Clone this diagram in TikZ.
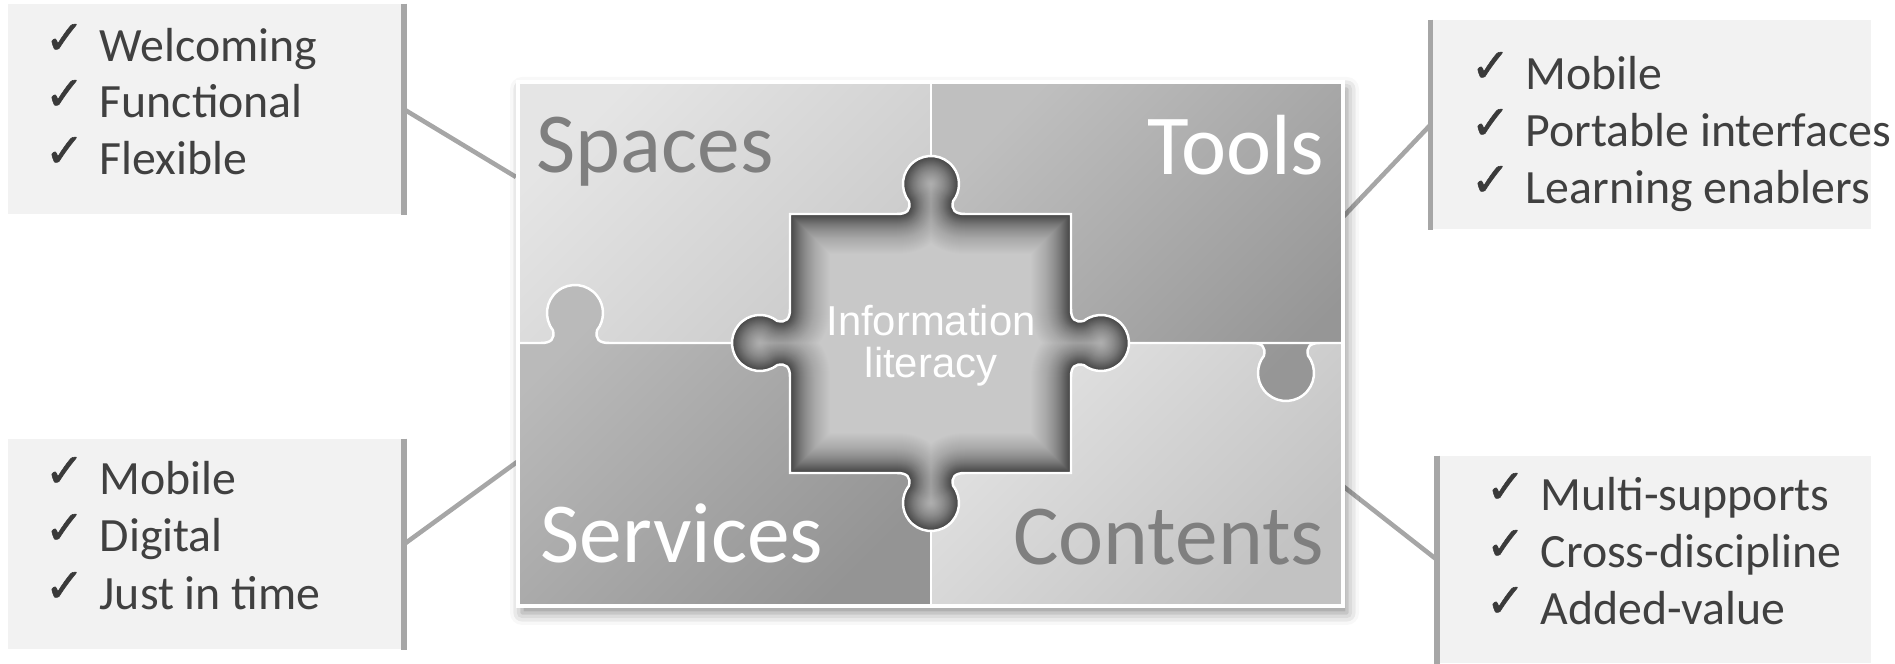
\documentclass[tikz,border=0pt]{standalone}
\usepackage{fontspec}
\setmainfont{Carlito}
\newfontfamily\infofont{Liberation Sans}
\newfontfamily\symfont[FakeBold=1.2]{DejaVu Sans}
\usetikzlibrary{shadows.blur}

\definecolor{boxfill}{HTML}{F2F2F2}
\definecolor{bargray}{HTML}{A6A6A6}
\definecolor{itemgray}{HTML}{404040}
\definecolor{tickgray}{HTML}{3A3A3A}
\definecolor{labelgray}{HTML}{7F7F7F}
\definecolor{holelight}{HTML}{C8C8C8}
\definecolor{holeshadow}{HTML}{101010}

% one puzzle knob, base on the x axis, pointing up
\newcommand\knob{-- (-0.34,0) .. controls (-0.24,0) and (-0.20,0.04) .. (-0.2207,0.1276)
  arc[start angle=218, end angle=-38, radius=0.28]
  .. controls (0.20,0.04) and (0.24,0) .. (0.34,0)}
% the hole in the middle, with its four knobs
\newcommand\holepath{(7.90,4.50) -- (8.97,4.50) {[shift={(9.31,4.50)}] \knob}
    -- (10.71,4.50) -- (10.71,3.55) {[shift={(10.71,3.21)}, rotate=-90] \knob}
    -- (10.71,1.91) -- (9.65,1.91) {[shift={(9.31,1.91)}, rotate=180] \knob}
    -- (7.90,1.91) -- (7.90,2.87) {[shift={(7.90,3.21)}, rotate=90] \knob} -- cycle}
\newcommand\tick{\makebox[0.55cm][l]{\raisebox{0.08cm}{\symfont\fontsize{13.5pt}{15pt}\selectfont\color{tickgray}✓}}}

\begin{document}
\begin{tikzpicture}[
    itemtext/.style={anchor=base west, inner sep=0pt, text=itemgray, font=\fontsize{13.6pt}{16pt}\selectfont},
    callbox/.style={fill=boxfill, inner sep=0pt, anchor=south west},
    sidebar/.style={draw=bargray, line width=1.5pt},
    connector/.style={draw=bargray, line width=1.3pt},
    piecetext/.style={inner sep=0pt, font=\fontsize{24.3pt}{28pt}\selectfont},
    infotext/.style={inner sep=0pt, align=center, text=white, font=\infofont\fontsize{11.9pt}{11.95pt}\selectfont},
    seamline/.style={draw=white, line width=0.7pt},
    glow/.style 2 args={draw=holeshadow, line width=#1, draw opacity=#2, line join=round},
    piecefill/.style 2 args={top color=#1, bottom color=#2, shading angle=45}]
  \useasboundingbox (0,0) rectangle (18.95,6.64);

  % callout boxes
  \node[callbox, minimum width=3.955cm, minimum height=2.10cm] (spacesbox) at (0.07,4.49) {};
  \node[callbox, minimum width=4.395cm, minimum height=2.09cm] (toolsbox) at (14.305,4.34) {};
  \node[callbox, minimum width=3.955cm, minimum height=2.10cm] (servicesbox) at (0.07,0.14) {};
  \node[callbox, minimum width=4.33cm, minimum height=2.07cm] (contentsbox) at (14.37,0) {};

  % connectors to the puzzle
  \coordinate (spacesend) at (5.16,4.87);
  \coordinate (toolsend) at (13.43,4.47);
  \coordinate (servicesend) at (5.17,2.02);
  \coordinate (contentsend) at (13.39,1.81);
  \draw[connector] (spacesbox.east) -- (spacesend);
  \draw[connector] (toolsbox.west) -- (toolsend);
  \draw[connector] (servicesbox.east) -- (servicesend);
  \draw[connector] (contentsbox.west) -- (contentsend);
  \draw[sidebar] (spacesbox.north east) -- (spacesbox.south east);
  \draw[sidebar] (toolsbox.north west) -- (toolsbox.south west);
  \draw[sidebar] (servicesbox.north east) -- (servicesbox.south east);
  \draw[sidebar] (contentsbox.north west) -- (contentsbox.south west);

  % puzzle
  \path[fill=white, blur shadow={shadow xshift=0.04cm, shadow yshift=-0.07cm, shadow blur radius=0.12cm, shadow opacity=45}]
    (5.18,0.58) rectangle (13.43,5.82);
  \shade[piecefill={white!90!black}{white!79!black}] (5.18,3.21) rectangle (9.31,5.82);
  \shade[piecefill={white!89!black}{white!76!black}] (9.31,0.58) rectangle (13.43,3.21);
  \shade[piecefill={white!73!black}{white!58!black}] (5.18,0.58) -- (5.18,3.21) -- (5.41,3.21)
    {[shift={(5.75,3.21)}] \knob} -- (9.31,3.21) -- (9.31,0.58) -- cycle;
  \shade[piecefill={white!75!black}{white!59!black}] (9.31,5.82) -- (13.43,5.82) -- (13.43,3.21) -- (13.20,3.21)
    {[shift={(12.86,3.21)}, rotate=180] \knob} -- (9.31,3.21) -- cycle;
  \draw[seamline] (9.31,5.82) -- (9.31,0.58);
  \draw[seamline] (5.18,3.21) -- (5.41,3.21) {[shift={(5.75,3.21)}] \knob}
    -- (13.20,3.21) {[shift={(12.86,3.21)}, rotate=180] \knob} -- (13.43,3.21);
  % hole, darker towards its border
  \begin{scope}
    \clip \holepath;
    \fill[holelight] (7.32,1.33) rectangle (11.30,5.09);
    \foreach \h in {0.40,0.39,...,0.01} {
      \pgfmathsetmacro\w{2*\h}
      \pgfmathsetmacro\a{0.006+0.09*exp(-10*\h)}
      \draw[glow={\w cm}{\a}] \holepath;
    }
  \end{scope}
  \draw[seamline] \holepath;
  \draw[white, line width=1pt] (5.18,0.58) rectangle (13.43,5.82);

  % piece names
  \node[piecetext, anchor=base west, text=labelgray] (spaces) at (5.36,4.91) {Spaces};
  \node[piecetext, anchor=base east, text=white] (tools) at (13.25,4.89) {Tools};
  \node[piecetext, anchor=base west, text=white] (services) at (5.40,1.01) {Services};
  \node[piecetext, anchor=base east, text=labelgray] (contents) at (13.25,0.99) {Contents};
  \node[infotext] (info) at (9.31,3.18) {Information\\literacy};

  % lists
  \node[itemtext] (sp1) at (0.44,6.02) {\tick Welcoming};
  \node[itemtext] (sp2) at (0.44,5.46) {\tick Functional};
  \node[itemtext] (sp3) at (0.44,4.89) {\tick Flexible};
  \node[itemtext] (to1) at (14.70,5.74) {\tick Mobile};
  \node[itemtext] (to2) at (14.70,5.17) {\tick Portable interfaces};
  \node[itemtext] (to3) at (14.70,4.60) {\tick Learning enablers};
  \node[itemtext] (se1) at (0.44,1.69) {\tick Mobile};
  \node[itemtext] (se2) at (0.44,1.12) {\tick Digital};
  \node[itemtext] (se3) at (0.44,0.54) {\tick Just in time};
  \node[itemtext] (co1) at (14.85,1.53) {\tick Multi-supports};
  \node[itemtext] (co2) at (14.85,0.96) {\tick Cross-discipline};
  \node[itemtext] (co3) at (14.85,0.39) {\tick Added-value};
\end{tikzpicture}
\end{document}
